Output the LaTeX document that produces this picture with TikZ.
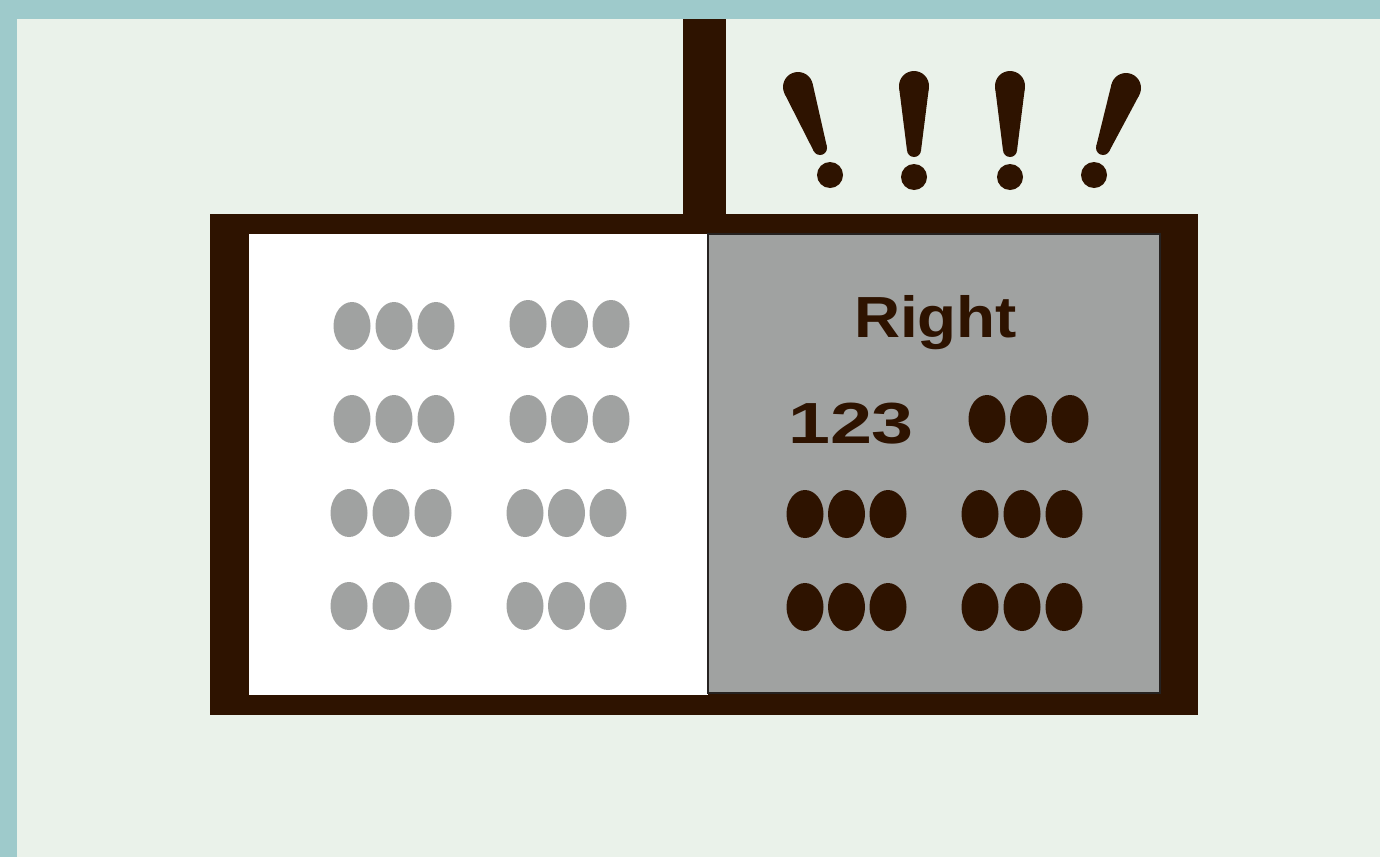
\documentclass[tikz,border=0pt]{standalone}
\usepackage{fontspec}
\setmainfont{Liberation Sans}
\usetikzlibrary{calc}
\definecolor{brn}{HTML}{2E1300}
\definecolor{bgc}{HTML}{EAF2EA}
\definecolor{tealc}{HTML}{9ECACB}
\definecolor{gry}{HTML}{A0A2A1}
\definecolor{edge}{HTML}{262220}
\newcommand\exmark[6]{%
  \coordinate (t) at (#1,#2); \coordinate (b) at (#3,#4);
  \fill[brn] (t) circle[radius=15];
  \fill[brn] (b) circle[radius=7];
  \fill[brn] let \p1=(t), \p2=(b), \n1={veclen(\x2-\x1,\y2-\y1)}, \n2={asin(8/\n1)} in
    ($(t)!15pt!{90-\n2}:(b)$) -- ($(b)!7pt!{-90-\n2}:(t)$) -- ($(b)!7pt!{90+\n2}:(t)$) -- ($(t)!15pt!{\n2-90}:(b)$) -- cycle;
  \fill[brn] (#5,#6) circle[radius=13];
}
\newcommand\triple[4]{% x of first, y, color, dx
  \foreach \k in {0,1,2} {\fill[#3] (#1+\k*#4,#2) ellipse[x radius=18.5, y radius=24];}
}
\tikzset{lbl/.style={text=brn, font=\bfseries\fontsize{58}{58}\selectfont, inner sep=0pt, anchor=base}}
\begin{document}
\begin{tikzpicture}[x=1pt,y=-1pt]
\useasboundingbox (0,0) rectangle (1380,857);
\fill[tealc] (0,0) rectangle (1380,857);
\fill[bgc] (17,19) rectangle (1380,857);
% post and frame
\fill[brn] (683,19) rectangle (726,215);
\fill[brn] (210,214) rectangle (1198,715);
\fill[white] (249,234) rectangle (708,695);
\draw[fill=gry, draw=edge, line width=2pt] (708,234) rectangle (1160,693);
% exclamation marks
\exmark{798}{87}{820}{148}{830}{175}
\exmark{914}{86}{914}{150}{914}{177}
\exmark{1010}{86}{1010}{150}{1010}{177}
\exmark{1126}{88}{1103}{148}{1094}{175}
% left gray ovals
\triple{352}{326}{gry}{42}
\triple{528}{324}{gry}{41.5}
\triple{352}{419}{gry}{42}
\triple{528}{419}{gry}{41.5}
\triple{349}{513}{gry}{42}
\triple{525}{513}{gry}{41.5}
\triple{349}{606}{gry}{42}
\triple{525}{606}{gry}{41.5}
% right dark ovals
\triple{987}{419}{brn}{41.5}
\triple{805}{514}{brn}{41.5}
\triple{980}{514}{brn}{42}
\triple{805}{607}{brn}{41.5}
\triple{980}{607}{brn}{42}
% texts
\node[lbl, xscale=1.1] (right) at (935.5,337) {Right};
\node[lbl, xscale=1.3] (num) at (851,443) {123};
\end{tikzpicture}
\end{document}
